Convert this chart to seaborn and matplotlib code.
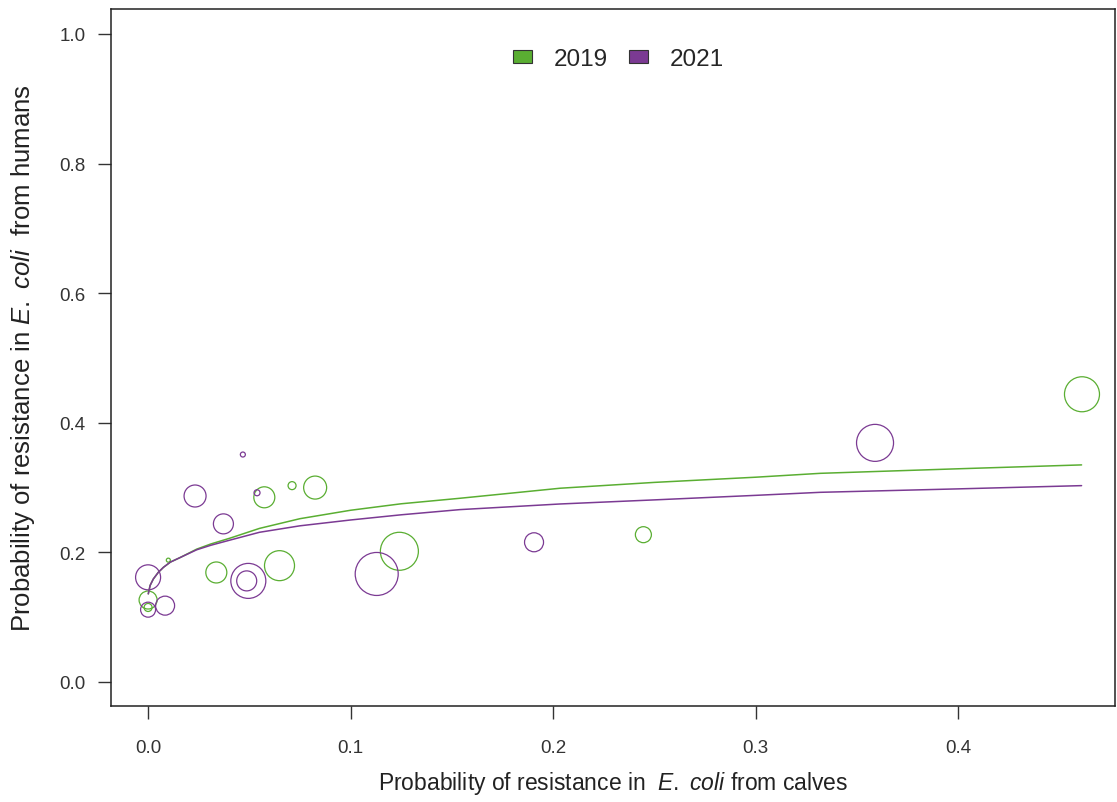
import matplotlib
matplotlib.use('Agg')
import matplotlib.pyplot as plt
from matplotlib.patches import Patch
import pandas as pd
import seaborn as sns

# Pontos: x = calves, y = humans, raio relativo do circulo
x_2019 = [0.0, 0.0, 0.010, 0.0337, 0.0574, 0.0711, 0.0825, 0.0649, 0.1241, 0.2446, 0.4612]
y_2019 = [0.1265, 0.115, 0.188, 0.169, 0.285, 0.303, 0.300, 0.1795, 0.2017, 0.2273, 0.444]
r_2019 = [9, 4, 2, 10.5, 10.5, 4, 11.5, 15, 19, 8, 17.5]

x_2021 = [0.0, 0.0, 0.0084, 0.0232, 0.0372, 0.0468, 0.0538, 0.0495, 0.0487, 0.1129, 0.1906, 0.359]
y_2021 = [0.1615, 0.1116, 0.1178, 0.287, 0.244, 0.351, 0.292, 0.156, 0.156, 0.1667, 0.2156, 0.369]
r_2021 = [12.5, 7.5, 9.5, 11, 10, 2.5, 3, 17.5, 10, 21.5, 9.5, 18.5]

# Curvas ajustadas
curva_x = [0.0001, 0.001, 0.0026, 0.005, 0.0076, 0.011, 0.0158, 0.024, 0.031, 0.0405,
           0.055, 0.075, 0.1, 0.125, 0.154, 0.2035, 0.25, 0.3, 0.332, 0.4, 0.461]
curva_2019 = [0.136, 0.149, 0.159, 0.169, 0.177, 0.185, 0.192, 0.205, 0.213, 0.222,
              0.237, 0.252, 0.265, 0.275, 0.2835, 0.299, 0.308, 0.316, 0.322, 0.329, 0.335]
curva_2021 = [0.136, 0.149, 0.159, 0.169, 0.177, 0.185, 0.192, 0.204, 0.211, 0.219,
              0.231, 0.241, 0.250, 0.258, 0.266, 0.2747, 0.281, 0.288, 0.2927, 0.298, 0.303]

anos = ['2019', '2021']
cores = {'2019': '#5aae32', '2021': '#7b3a93'}

pontos = pd.concat([
    pd.DataFrame({'calves': x_2019, 'humans': y_2019, 'raio': r_2019, 'ano': '2019'}),
    pd.DataFrame({'calves': x_2021, 'humans': y_2021, 'raio': r_2021, 'ano': '2021'}),
])
# area do marcador em pt^2 (dpi 100)
pontos['area'] = (2 * pontos['raio'] * 0.72) ** 2

curvas = pd.DataFrame({
    'calves': curva_x * 2,
    'humans': curva_2019 + curva_2021,
    'ano': ['2019'] * len(curva_x) + ['2021'] * len(curva_x),
})

sns.set_style('white')
plt.rcParams['font.family'] = ['Liberation Sans', 'DejaVu Sans']
plt.rcParams['mathtext.fontset'] = 'custom'
plt.rcParams['mathtext.it'] = 'Liberation Sans:italic'
plt.rcParams['mathtext.rm'] = 'Liberation Sans'

fig = plt.figure(figsize=(11.17, 8.03), dpi=100)
ax = fig.add_axes([0.0994, 0.1196, 0.8988, 0.868])

amin, amax = pontos['area'].min(), pontos['area'].max()
for ano in anos:
    sub = pontos[pontos['ano'] == ano]
    sns.scatterplot(data=sub, x='calves', y='humans', size='area',
                    sizes=(amin, amax), size_norm=(amin, amax),
                    marker='o', legend=False, ax=ax, zorder=2)
    col = ax.collections[-1]
    col.set_facecolor('none')
    col.set_edgecolor(cores[ano])
    col.set_linewidth(0.9)

sns.lineplot(data=curvas, x='calves', y='humans', hue='ano', palette=cores,
             estimator=None, sort=False, linewidth=1.1, legend=False, ax=ax,
             zorder=3)

ax.set_xlim(-0.0183, 0.4775)
ax.set_ylim(-0.037, 1.0386)
ax.set_xticks([0.0, 0.1, 0.2, 0.3, 0.4])
ax.set_xticklabels(['0.0', '0.1', '0.2', '0.3', '0.4'])
ax.set_yticks([0.0, 0.2, 0.4, 0.6, 0.8, 1.0])
ax.set_yticklabels(['0.0', '0.2', '0.4', '0.6', '0.8', '1.0'])
ax.tick_params(axis='both', direction='out', length=9.5, width=1, color='#333333',
               labelsize=13.5, labelcolor='#333333', bottom=True, left=True)
ax.tick_params(axis='x', pad=14)
ax.tick_params(axis='y', pad=9)
for s in ax.spines.values():
    s.set_color('#222222')
    s.set_linewidth(1.1)

ax.set_xlabel(r'Probability of resistance in  $\it{E.}$ $\it{coli}$ from calves',
              fontsize=16.5, color='#222222', labelpad=10)
ax.set_ylabel(r'Probability of resistance in $\it{E.}$ $\it{coli}$  from humans',
              fontsize=18.5, color='#222222', labelpad=16)

handles = [Patch(facecolor=cores[a], edgecolor='#333333', linewidth=0.8, label=a)
           for a in anos]
ax.legend(handles=handles, loc='center', bbox_to_anchor=(0.5055, 0.928), ncol=2,
          frameon=False, fontsize=17.5, handlelength=0.75, handleheight=0.42,
          handletextpad=0.9, columnspacing=0.9)

plt.savefig('out.png', dpi=100)
